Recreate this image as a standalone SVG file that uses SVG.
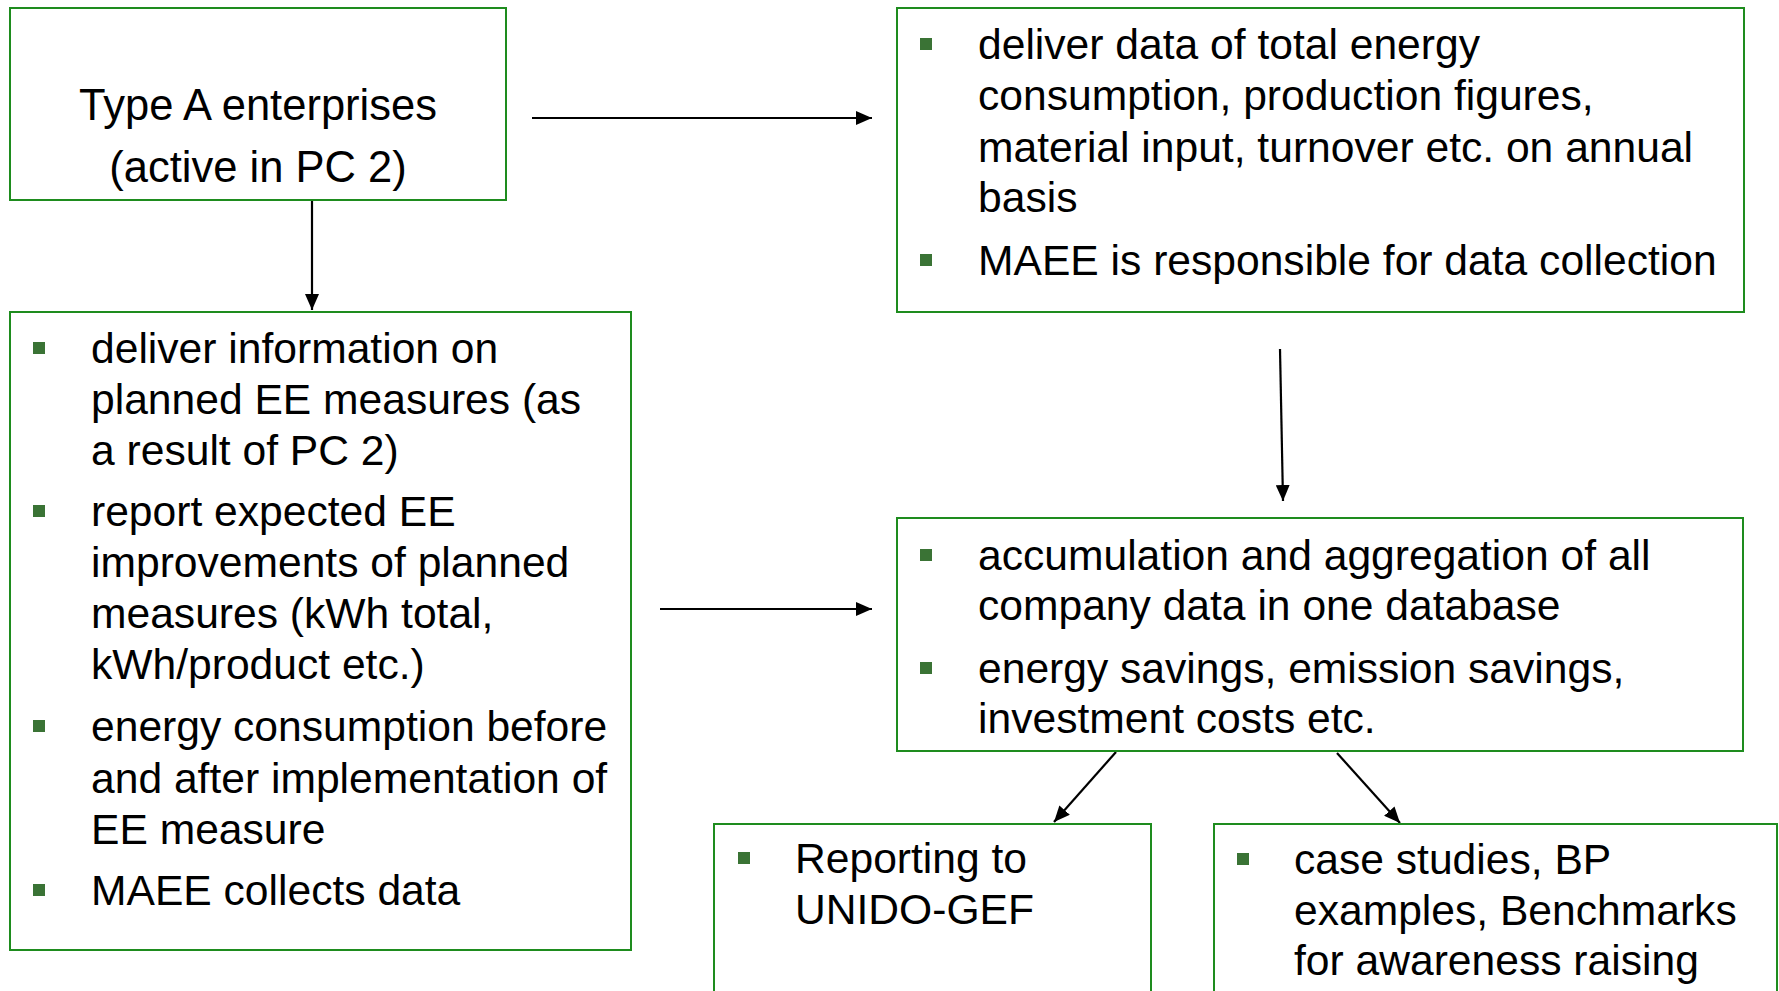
<svg xmlns="http://www.w3.org/2000/svg" width="1779" height="991" viewBox="0 0 1779 991">
<defs>
<style>
.box{fill:#ffffff;stroke:#1e8c1e;stroke-width:2}
.t{font-family:"Liberation Sans",Arial,sans-serif;font-size:42.6px;fill:#000000}
.h{font-size:43.5px}
.b{fill:#3a7335}
.c{stroke:#000000;stroke-width:2.2;fill:none;marker-end:url(#ah)}
</style>
<marker id="ah" markerUnits="userSpaceOnUse" markerWidth="16" markerHeight="14" refX="16" refY="7" orient="auto">
<path d="M0,0 L16,7 L0,14 z" fill="#000000"/>
</marker>
</defs>
<rect width="1779" height="991" fill="#ffffff"/>
<g id="connectors">
<line class="c" x1="312" y1="200" x2="312" y2="310"/>
<line class="c" x1="532" y1="118" x2="872" y2="118"/>
<line class="c" x1="660" y1="609" x2="872" y2="609"/>
<line class="c" x1="1280" y1="349" x2="1283" y2="501"/>
<line class="c" x1="1116" y1="752" x2="1054" y2="822"/>
<line class="c" x1="1337" y1="753" x2="1400" y2="823"/>
</g>
<g id="typeA">
<rect class="box" x="10" y="8" width="496" height="192"/>
<text class="t h" x="258" y="120" text-anchor="middle">Type A enterprises</text>
<text class="t h" x="258" y="182" text-anchor="middle">(active in PC 2)</text>
</g>
<g id="deliverData">
<rect class="box" x="897" y="8" width="847" height="304"/>
<rect class="b" x="920" y="38" width="12" height="12"/>
<text class="t" x="978" y="59">deliver data of total energy</text>
<text class="t" x="978" y="110">consumption, production figures,</text>
<text class="t" x="978" y="162">material input, turnover etc. on annual</text>
<text class="t" x="978" y="212">basis</text>
<rect class="b" x="920" y="254" width="12" height="12"/>
<text class="t" x="978" y="275">MAEE is responsible for data collection</text>
</g>
<g id="deliverInfo">
<rect class="box" x="10" y="312" width="621" height="638"/>
<rect class="b" x="33" y="342" width="12" height="12"/>
<text class="t" x="91" y="363">deliver information on</text>
<text class="t" x="91" y="414">planned EE measures (as</text>
<text class="t" x="91" y="465">a result of PC 2)</text>
<rect class="b" x="33" y="505" width="12" height="12"/>
<text class="t" x="91" y="526">report expected EE</text>
<text class="t" x="91" y="577">improvements of planned</text>
<text class="t" x="91" y="628">measures (kWh total,</text>
<text class="t" x="91" y="679">kWh/product etc.)</text>
<rect class="b" x="33" y="720" width="12" height="12"/>
<text class="t" x="91" y="741">energy consumption before</text>
<text class="t" x="91" y="793">and after implementation of</text>
<text class="t" x="91" y="844">EE measure</text>
<rect class="b" x="33" y="884" width="12" height="12"/>
<text class="t" x="91" y="905">MAEE collects data</text>
</g>
<g id="accumulation">
<rect class="box" x="897" y="518" width="846" height="233"/>
<rect class="b" x="920" y="549" width="12" height="12"/>
<text class="t" x="978" y="570">accumulation and aggregation of all</text>
<text class="t" x="978" y="620">company data in one database</text>
<rect class="b" x="920" y="662" width="12" height="12"/>
<text class="t" x="978" y="683">energy savings, emission savings,</text>
<text class="t" x="978" y="733">investment costs etc.</text>
</g>
<g id="reporting">
<rect class="box" x="714" y="824" width="437" height="180"/>
<rect class="b" x="738" y="852" width="12" height="12"/>
<text class="t" x="795" y="873">Reporting to</text>
<text class="t" x="795" y="924">UNIDO-GEF</text>
</g>
<g id="caseStudies">
<rect class="box" x="1214" y="824" width="563" height="180"/>
<rect class="b" x="1237" y="853" width="12" height="12"/>
<text class="t" x="1294" y="874">case studies, BP</text>
<text class="t" x="1294" y="925">examples, Benchmarks</text>
<text class="t" x="1294" y="975">for awareness raising</text>
</g>
</svg>
